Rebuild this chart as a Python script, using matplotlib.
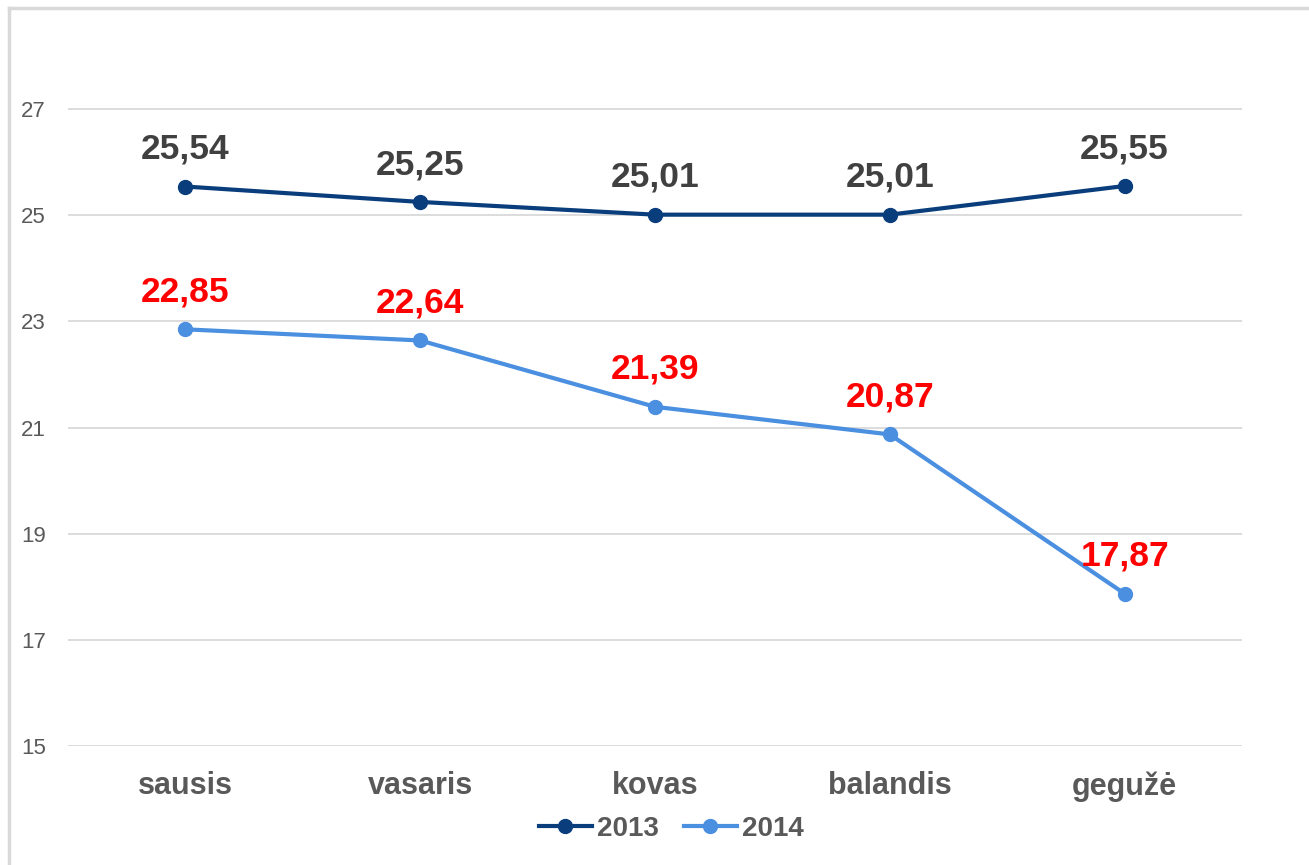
import matplotlib.pyplot as plt
from matplotlib.lines import Line2D

plt.rcParams["font.family"] = ["Liberation Sans", "DejaVu Sans"]

# datos
meses = ["sausis", "vasaris", "kovas", "balandis", "gegužė"]
serie_2013 = [25.54, 25.25, 25.01, 25.01, 25.55]
serie_2014 = [22.85, 22.64, 21.39, 20.87, 17.87]
y_ticks = [15, 17, 19, 21, 23, 25, 27]

COLOR_2013 = "#0A3D7C"
COLOR_2014 = "#4A8FE0"

fig = plt.figure(figsize=(13.09, 8.65), dpi=100)
ax = fig.add_axes([68 / 1309, 1 - 746 / 865, 1174 / 1309, (746 - 18.8) / 865])

x = list(range(len(meses)))
ax.plot(x, serie_2013, color=COLOR_2013, linewidth=3, marker="o", markersize=10, zorder=4)
ax.plot(x, serie_2014, color=COLOR_2014, linewidth=3, marker="o", markersize=10, zorder=3)

for xi, v in zip(x, serie_2013):
    ax.annotate(f"{v:.2f}".replace(".", ","), (xi, v), xytext=(0, 15), textcoords="offset points",
                ha="center", va="bottom", fontsize=25.5, fontweight="bold", color="#404040")
for xi, v in zip(x, serie_2014):
    ax.annotate(f"{v:.2f}".replace(".", ","), (xi, v), xytext=(0, 15), textcoords="offset points",
                ha="center", va="bottom", fontsize=25.5, fontweight="bold", color="#FF0000")

ax.set_xlim(-0.5, len(meses) - 0.5)
ax.set_ylim(15, 28.7)
ax.set_yticks(y_ticks)
ax.set_xticks(x)
ax.set_xticklabels(meses, fontsize=22, fontweight="bold", color="#595959")
ax.tick_params(axis="y", labelsize=16, labelcolor="#595959", length=0, pad=16)
ax.tick_params(axis="x", length=0, pad=18)
for lbl in ax.get_yticklabels():
    lbl.set_horizontalalignment("right")

ax.grid(axis="y", color="#D9D9D9", linewidth=1.3)
ax.set_axisbelow(True)
for s in ax.spines.values():
    s.set_visible(False)

handles = [
    Line2D([], [], color=COLOR_2013, linewidth=3, marker="o", markersize=10),
    Line2D([], [], color=COLOR_2014, linewidth=3, marker="o", markersize=10),
]
leg = fig.legend(handles, ["2013", "2014"], loc="center", bbox_to_anchor=(0.513, 0.042),
                 ncol=2, frameon=False, handlelength=1.9, handletextpad=0.2, columnspacing=0.9,
                 prop={"size": 20, "weight": "bold"})
for t in leg.get_texts():
    t.set_color("#595959")

# marco de la figura (solo borde superior e izquierdo visibles)
fig.add_artist(Line2D([9 / 1309, 1.0], [1 - 8 / 865, 1 - 8 / 865], color="#D9D9D9", linewidth=2.5,
                      transform=fig.transFigure))
fig.add_artist(Line2D([9 / 1309, 9 / 1309], [0, 1 - 8 / 865], color="#D9D9D9", linewidth=2.5,
                      transform=fig.transFigure))

plt.savefig("out.png", dpi=100)
plt.close()
